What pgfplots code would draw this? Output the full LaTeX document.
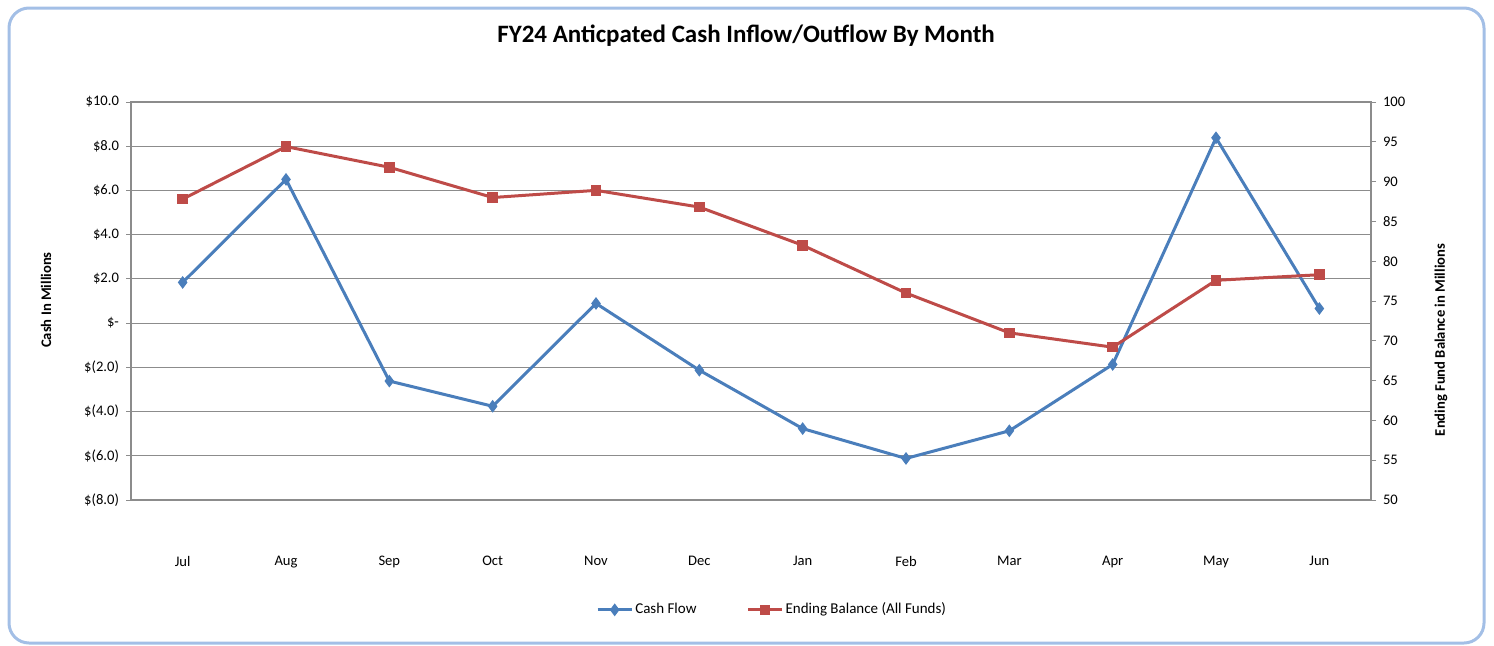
\documentclass[border=0pt]{standalone}
\usepackage{pgfplots}
\pgfplotsset{compat=1.18}
\usepackage{fontspec}
\setmainfont{Carlito}
\definecolor{cfblue}{HTML}{4A7EBB}
\definecolor{ebred}{HTML}{BE4B48}
\definecolor{gridgray}{HTML}{8C8C8C}
\definecolor{frameblue}{HTML}{A3BFE6}

\pgfplotstableread{
idx cash
0 1.84
1 6.50
2 -2.62
3 -3.76
4 0.89
5 -2.13
6 -4.77
7 -6.12
8 -4.87
9 -1.87
10 8.38
11 0.66
}\cashflow

\pgfplotstableread{
idx bal
0 87.8
1 94.4
2 91.8
3 88.0
4 88.9
5 86.8
6 82.0
7 76.0
8 71.0
9 69.2
10 77.6
11 78.3
}\balance

\begin{document}
\begin{tikzpicture}[x=0.5pt,y=0.5pt]
\useasboundingbox (0,0) rectangle (1494,645);
\draw[frameblue, line width=1.5pt, rounded corners=10pt] (9,2) rectangle (1484,637);
\node[font=\bfseries\fontsize{12.5}{15}\selectfont] at (746,609) {FY24 Anticpated Cash Inflow/Outflow By Month};
\node[rotate=90,font=\bfseries\fontsize{7.3}{9}\selectfont] at (46,345) {Cash In Millions};
\node[rotate=90,font=\bfseries\fontsize{7.3}{9}\selectfont] at (1441,305) {Ending Fund Balance in Millions};

\begin{axis}[
  at={(65.5pt,72.5pt)}, anchor=south west,
  scale only axis, width=620pt, height=199pt,
  xmin=-0.5, xmax=11.5, ymin=-8, ymax=10,
  xtick={0,...,11},
  xticklabels={Jul,Aug,Sep,Oct,Nov,Dec,Jan,Feb,Mar,Apr,May,Jun},
  major x tick style={draw=none},
  xticklabel style={yshift=-22pt, font=\fontsize{7.3}{8}\selectfont},
  ytick={-8,-6,...,10},
  yticklabels={\$(8.0),\$(6.0),\$(4.0),\$(2.0),\$-,\$2.0,\$4.0,\$6.0,\$8.0,\$10.0},
  yticklabel style={font=\fontsize{7.3}{8}\selectfont},
  ytick pos=left,
  tick align=outside,
  major tick length=2.5pt,
  tick style={gridgray, line width=0.5pt},
  axis line style={gridgray, line width=0.6pt},
  ymajorgrids,
  grid style={gridgray, line width=0.6pt},
  clip=false,
]
\addplot[cfblue, line width=1.5pt, mark=diamond*, mark size=2.8pt,
  mark options={fill=cfblue, draw=cfblue, line width=0.5pt}] table[x=idx, y=cash] {\cashflow};
\end{axis}

\begin{axis}[
  at={(65.5pt,72.5pt)}, anchor=south west,
  scale only axis, width=620pt, height=199pt,
  xmin=-0.5, xmax=11.5, ymin=50, ymax=100,
  axis x line=none,
  axis y line*=right,
  ytick={50,55,...,100},
  yticklabel style={font=\fontsize{7.3}{8}\selectfont, /pgf/number format/assume math mode=true},
  tick align=outside,
  major tick length=2.5pt,
  tick style={gridgray, line width=0.5pt},
  axis line style={gridgray, line width=0.6pt, -},
  legend style={at={(0.517,-0.276)}, anchor=center, draw=none, fill=none,
    legend columns=2, font=\fontsize{7.5}{9}\selectfont,
    /tikz/every even column/.append style={column sep=24pt},
    nodes={inner xsep=1pt},
    legend cell align=left, inner sep=0pt},
  clip=false,
]
\addlegendimage{cfblue, line width=1.5pt, mark=diamond*, mark size=2.8pt,
  mark options={fill=cfblue, draw=cfblue, line width=0.5pt}}
\addlegendentry{Cash Flow}
\addplot[ebred, line width=1.5pt, mark=square*, mark size=2.4pt,
  mark options={fill=ebred, draw=ebred, line width=0.5pt}] table[x=idx, y=bal] {\balance};
\addlegendentry{Ending Balance (All Funds)}
\end{axis}
\end{tikzpicture}
\end{document}
